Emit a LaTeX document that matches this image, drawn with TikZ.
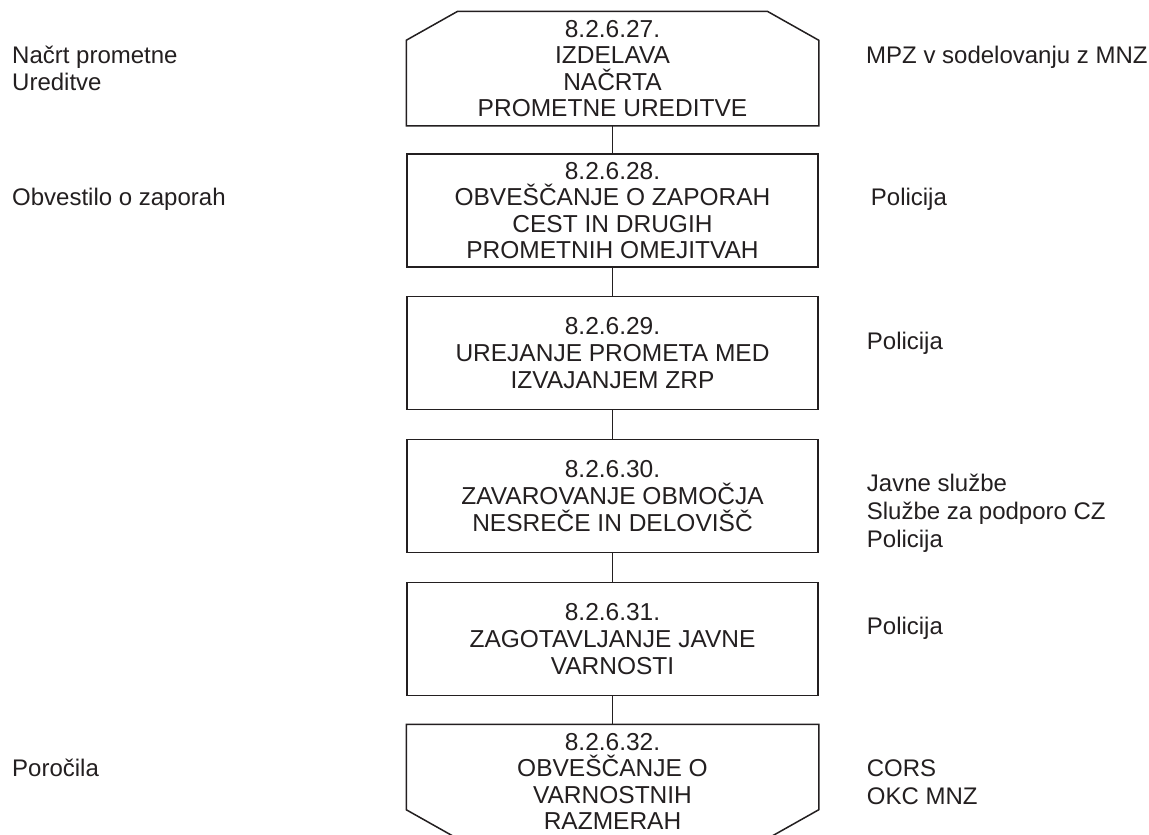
\documentclass[tikz,border=0pt]{standalone}
\usepackage{fontspec}
\setmainfont{Liberation Sans}
\usetikzlibrary{calc}
\definecolor{ink}{HTML}{231F20}
\newcommand{\boxfont}{\fontsize{24.5}{26.6}\selectfont}
\newcommand{\sidefont}{\fontsize{24}{28}\selectfont}
\tikzset{
  stepbox/.style={draw=ink, line width=1.5pt, align=center, font=\boxfont, text=ink,
    inner sep=0pt, minimum width=411pt, minimum height=113pt},
  chambox/.style={stepbox, draw=none},
  boxline/.style={draw=ink, line width=1.5pt, line join=miter},
  conn/.style={draw=ink, line width=1.5pt},
  sidetext/.style={anchor=base west, inner sep=0pt, font=\sidefont, text=ink}
}
\begin{document}
\begin{tikzpicture}[x=1pt, y=-1pt]
\useasboundingbox (0,0) rectangle (1149,835);
\fill[white] (0,0) rectangle (1149,835);

% boxes
\node[chambox] (b1) at (612.5,68.5) {8.2.6.27.\\IZDELAVA\\NAČRTA\\PROMETNE UREDITVE};
\draw[boxline] (b1.south west) -- ($(b1.north west)+(0,29)$) -- ($(b1.north west)+(51.5,0)$)
  -- ($(b1.north east)+(-51.5,0)$) -- ($(b1.north east)+(0,29)$) -- (b1.south east) -- cycle;

\node[stepbox] (b2) at (612.5,210.5) {8.2.6.28.\\OBVEŠČANJE O ZAPORAH\\CEST IN DRUGIH\\PROMETNIH OMEJITVAH};
\node[stepbox] (b3) at (612.5,353) {8.2.6.29.\\UREJANJE PROMETA MED\\IZVAJANJEM ZRP};
\node[stepbox] (b4) at (612.5,496) {8.2.6.30.\\ZAVAROVANJE OBMOČJA\\NESREČE IN DELOVIŠČ};
\node[stepbox] (b5) at (612.5,639) {8.2.6.31.\\ZAGOTAVLJANJE JAVNE\\VARNOSTI};

\node[chambox] (b6) at (612.5,781.5) {8.2.6.32.\\OBVEŠČANJE O\\VARNOSTNIH\\RAZMERAH};
\draw[boxline] (b6.north west) -- ($(b6.south west)+(0,-29)$) -- ($(b6.south west)+(51.5,0)$)
  -- ($(b6.south east)+(-51.5,0)$) -- ($(b6.south east)+(0,-29)$) -- (b6.north east) -- cycle;

% connectors
\draw[conn] (b1.south) -- (b2.north);
\draw[conn] (b2.south) -- (b3.north);
\draw[conn] (b3.south) -- (b4.north);
\draw[conn] (b4.south) -- (b5.north);
\draw[conn] (b5.south) -- (b6.north);

% left labels
\node[sidetext] (l1) at (12,63) {\begin{tabular}[t]{@{}l@{}}Načrt prometne\\Ureditve\end{tabular}};
\node[sidetext] (l2) at (12,205) {Obvestilo o zaporah};
\node[sidetext] (l6) at (12,776.7) {Poročila};

% right labels
\node[sidetext] (r1) at (866,63) {MPZ v sodelovanju z MNZ};
\node[sidetext] (r2) at (870.7,205) {Policija};
\node[sidetext] (r3) at (866.7,349) {Policija};
\node[sidetext] (r4) at (866.7,491.7) {\begin{tabular}[t]{@{}l@{}}Javne službe\\Službe za podporo CZ\\Policija\end{tabular}};
\node[sidetext] (r5) at (866.7,634) {Policija};
\node[sidetext] (r6) at (866.7,776.7) {\begin{tabular}[t]{@{}l@{}}CORS\\OKC MNZ\end{tabular}};
\end{tikzpicture}
\end{document}
